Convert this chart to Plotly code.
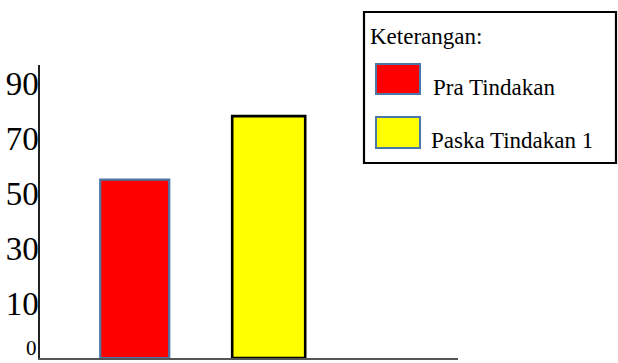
import plotly.graph_objects as go

categories = ["Pra Tindakan", "Paska Tindakan 1"]
values = [55, 78]
bar_colors = ["#ff0000", "#ffff00"]
bar_edges = ["#4a76a8", "#000000"]
tick_vals = [10, 30, 50, 70, 90]
tick_text = ["10", "30", "50", "70", "90"]
zero_label = "0"
legend_title = "Keterangan:"

Y_MIN, Y_MAX = -9.6, 96.5
FONT = "Times New Roman"

fig = go.Figure()
fig.add_trace(go.Bar(
    x=categories,
    y=[v - Y_MIN for v in values],
    base=[Y_MIN] * len(values),
    width=[0.515, 0.545],
    marker=dict(color=bar_colors, line=dict(color=bar_edges, width=[2.2, 2.6])),
    showlegend=False,
    hoverinfo="skip",
))

fig.update_layout(
    width=618, height=363,
    margin=dict(l=40, r=160, t=65, b=5),
    paper_bgcolor="white", plot_bgcolor="white",
    font=dict(family=FONT, color="black"),
    xaxis=dict(range=[-0.707, 2.413], showticklabels=False, ticks="", showgrid=False,
               zeroline=False, showline=True, linecolor="#555555", linewidth=2,
               automargin=False),
    yaxis=dict(range=[Y_MIN, Y_MAX], tickvals=tick_vals, ticktext=tick_text,
               tickfont=dict(size=33, family=FONT, color="black"),
               ticks="", ticklabelstandoff=-7, showgrid=False, zeroline=False,
               showline=True, linecolor="#222222", linewidth=1.5, automargin=False),
)

def px2paper(px, py):
    return (px - 40) / 418, (358 - py) / 293

# zero label at axis bottom
zx, zy = px2paper(40, 362)
fig.add_annotation(xref="paper", yref="paper", x=zx, y=zy, text=zero_label, showarrow=False,
                   xanchor="right", yanchor="bottom", xshift=-1,
                   font=dict(size=21, family=FONT, color="black"))

# legend box
x0, y1 = px2paper(364, 12)
x1, y0 = px2paper(616, 163)
fig.add_shape(type="rect", xref="paper", yref="paper", x0=x0, x1=x1, y0=y0, y1=y1,
              line=dict(color="black", width=2.2), fillcolor="white", layer="above")

tx, ty = px2paper(368, 37)
fig.add_annotation(xref="paper", yref="paper", x=tx, y=ty, text=legend_title, showarrow=False,
                   xanchor="left", yanchor="middle", font=dict(size=23, family=FONT, color="black"))

sw = [(64, 94, 431, 87), (117, 148, 429, 140)]
for (top, bot, tx_px, ty_px), name, col in zip(sw, categories, bar_colors):
    a0, b1 = px2paper(376, top)
    a1, b0 = px2paper(420, bot)
    fig.add_shape(type="rect", xref="paper", yref="paper", x0=a0, x1=a1, y0=b0, y1=b1,
                  line=dict(color="#4a76a8", width=2), fillcolor=col, layer="above")
    lx, ly = px2paper(tx_px, ty_px)
    fig.add_annotation(xref="paper", yref="paper", x=lx, y=ly, text=name, showarrow=False,
                       xanchor="left", yanchor="middle", font=dict(size=23, family=FONT, color="black"))

fig.write_html("out.html")
